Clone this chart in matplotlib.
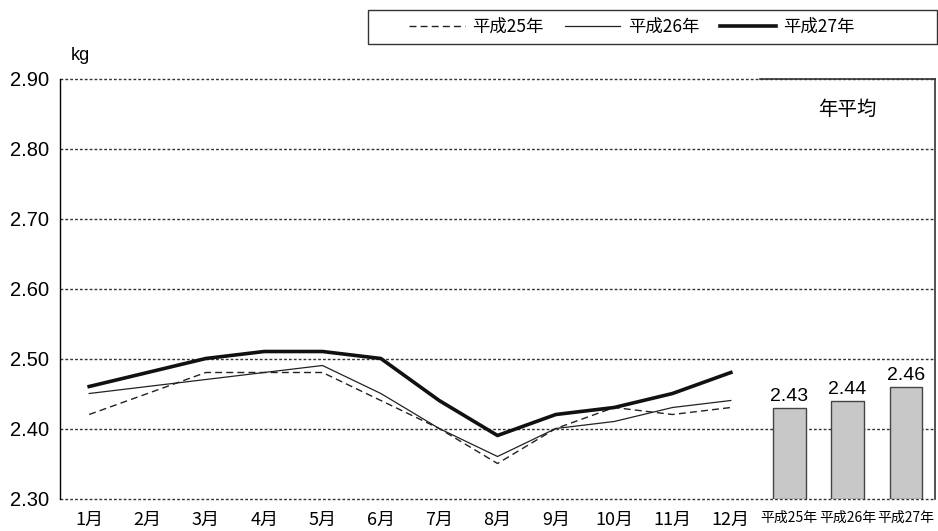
import numpy as np
import matplotlib.pyplot as plt
from matplotlib.patches import Rectangle

# monthly values (kg)
months = ['1月', '2月', '3月', '4月', '5月', '6月', '7月', '8月', '9月', '10月', '11月', '12月']
h25 = [2.42, 2.45, 2.48, 2.48, 2.48, 2.44, 2.40, 2.35, 2.40, 2.43, 2.42, 2.43]
h26 = [2.45, 2.46, 2.47, 2.48, 2.49, 2.45, 2.40, 2.36, 2.40, 2.41, 2.43, 2.44]
h27 = [2.46, 2.48, 2.50, 2.51, 2.51, 2.50, 2.44, 2.39, 2.42, 2.43, 2.45, 2.48]

# annual averages
years = ['平成25年', '平成26年', '平成27年']
year_avg = [2.43, 2.44, 2.46]

yticks = [2.30, 2.40, 2.50, 2.60, 2.70, 2.80, 2.90]

cjk = ['Noto Sans CJK JP', 'DejaVu Sans']
num = ['Liberation Sans', 'DejaVu Sans']
plt.rcParams['font.family'] = cjk

fig = plt.figure(figsize=(9.38, 5.31), dpi=100)
ax = fig.add_axes([60 / 938, 32.5 / 531, 875 / 938, 420 / 531])

x = np.arange(1, len(months) + 1)
ax.plot(x, h25, color='#222222', lw=1.0, ls=(0, (5, 3)), label='平成25年')
ax.plot(x, h26, color='#222222', lw=0.9, label='平成26年')
ax.plot(x, h27, color='#111111', lw=2.6, label='平成27年')

bx = np.arange(len(months) + 1, len(months) + 1 + len(years))
ax.bar(bx, [v - 2.30 for v in year_avg], bottom=2.30, width=0.56,
       color='#c8c8c8', edgecolor='#444444', linewidth=1.0, zorder=3)
for xi, v in zip(bx, year_avg):
    ax.text(xi, v + 0.003, f'{v:.2f}', ha='center', va='bottom',
            fontsize=14, family=num)

ax.set_xlim(0.5, 15.5)
ax.set_ylim(2.30, 2.90)

# dotted gridlines
for yv in yticks:
    ax.axhline(yv, color='#333333', lw=1.0, ls=(0, (2, 1.5)), zorder=1, clip_on=False)
# solid top and right side of the annual average box
ax.plot([12.5, 15.5], [2.90, 2.90], color='#333333', lw=1.2, clip_on=False, zorder=4)
ax.plot([15.5, 15.5], [2.30, 2.90], color='#333333', lw=1.2, clip_on=False, zorder=4)

ax.spines['top'].set_visible(False)
ax.spines['bottom'].set_visible(False)
ax.spines['right'].set_visible(False)
ax.spines['left'].set_linewidth(1.0)

ax.set_yticks(yticks)
ax.set_yticklabels([f'{v:.2f}' for v in yticks], fontsize=14.5, family=num)
ax.set_xticks(list(x) + list(bx))
ax.set_xticklabels(months + years)
for lbl in ax.get_xticklabels()[:len(months)]:
    lbl.set_fontsize(13)
for lbl in ax.get_xticklabels()[len(months):]:
    lbl.set_fontsize(10)
ax.tick_params(axis='both', length=0)
ax.tick_params(axis='y', pad=8)
ax.tick_params(axis='x', pad=9)

ax.text(0.012, 1.035, 'kg', transform=ax.transAxes, fontsize=13, family=num,
        ha='left', va='bottom')
ax.text(14.0, 2.856, '年平均', ha='center', va='center', fontsize=14)

# legend box
fig.patches.append(Rectangle((368 / 938, 1 - 44 / 531), 569 / 938, 34 / 531,
                             transform=fig.transFigure, fill=False,
                             edgecolor='#333333', lw=1.0))
fig.legend(loc='center', bbox_to_anchor=(632 / 938, 1 - 27 / 531),
           ncol=3, frameon=False, fontsize=12.5, handlelength=3.2,
           columnspacing=1.2, handletextpad=0.45)

fig.savefig('out.png', dpi=100)
